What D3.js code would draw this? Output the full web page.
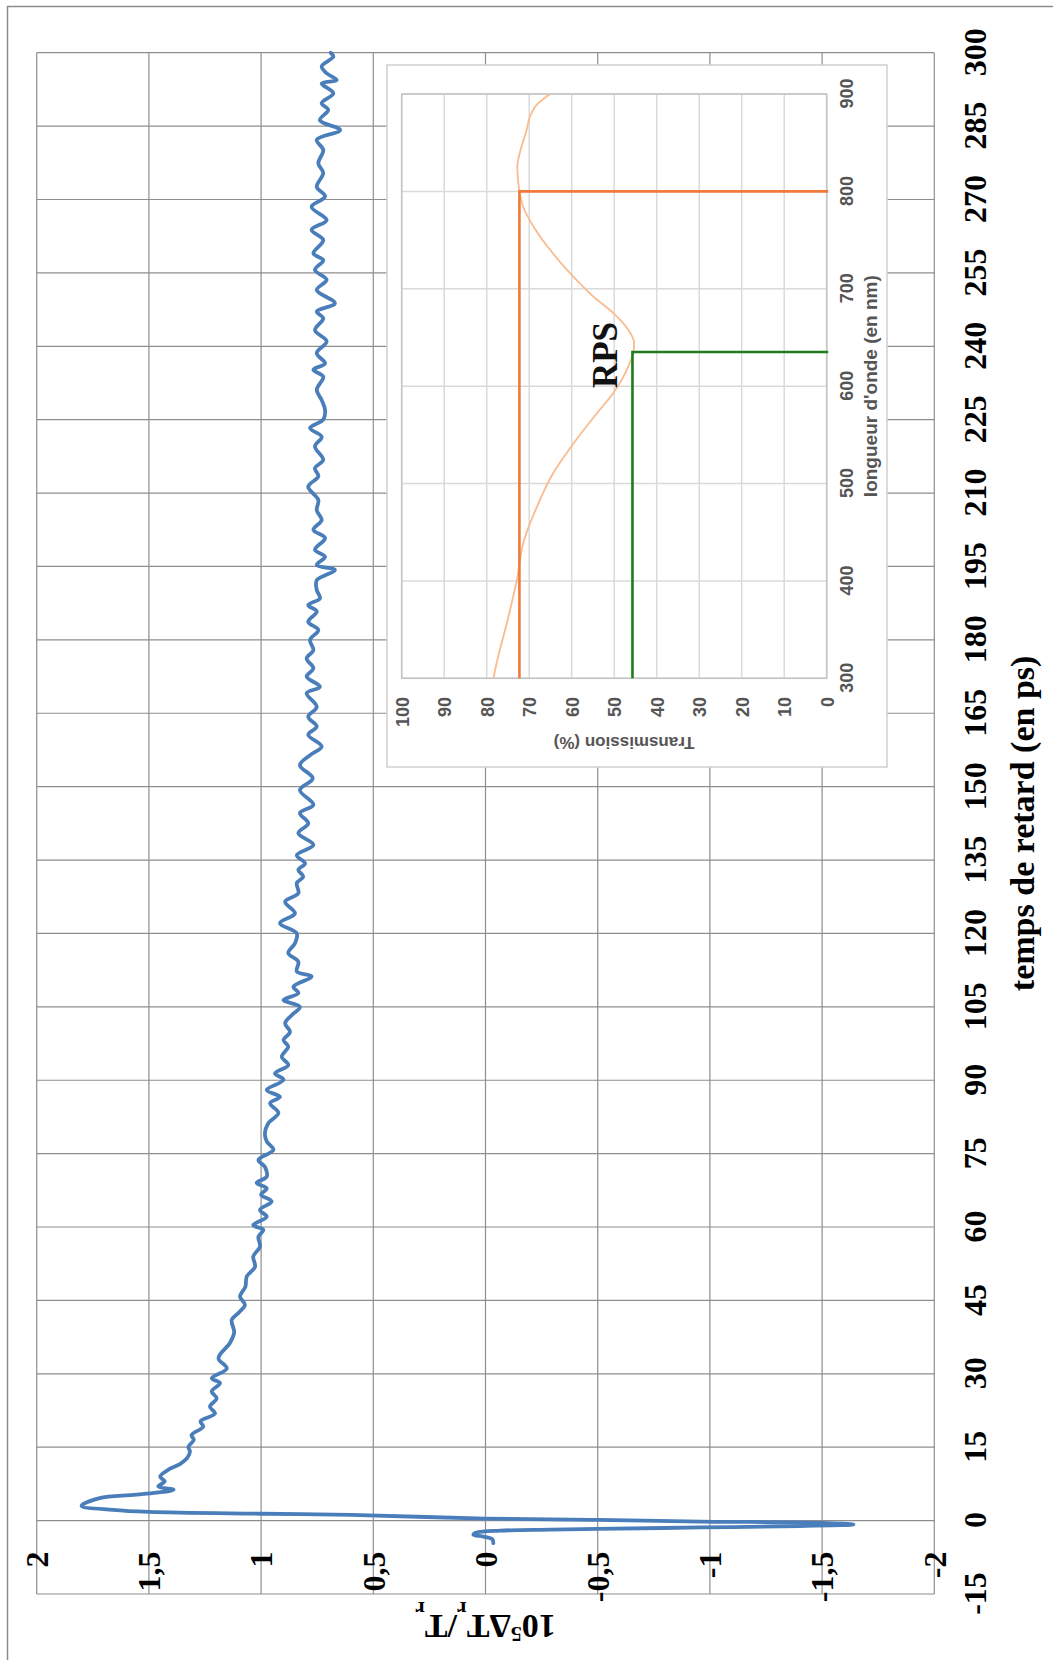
<!DOCTYPE html>
<html>
<head>
<meta charset="utf-8">
<script src="https://cdn.jsdelivr.net/npm/d3@7"></script>
<style>
  html, body { margin: 0; padding: 0; background: #fff; }
  svg { display: block; }
</style>
</head>
<body>
<div id="chart"></div>
<script>
// ---------------- DATA ----------------
// main chart: delay time (ps) and signal 10^5 dTr/Tr
const delayTimes = [-4.62,-3.8,-3.27,-2.92,-2.45,-2.04,-1.84,-1.70,-1.40,-1.10,-0.80,-0.45,-0.20,0.14,0.41,1.17,1.40,1.78,2.20,3.00,
  4.60,5.25,5.70,6.30,6.95,8.0,9.0,10.5,11.6,12.75,14.1,15.1,16.5,17.5,19.2,20.3,21.9,23.3,25.0,26.4,28.1,29.1,31.1,33.2,36.3,38.5,41.0,42.5,44.1,45.8,
  47.8,49.9,51.9,54.0,56.0,58.0,59.4,60.4,62.1,63.5,65.2,66.6,67.9,69.0,70.3,72.3,73.7,75.8,77.5,79.2,81.2,83.3,85.3,86.6,88.0,90.1,91.4,93.1,94.8,96.9,
  98.2,99.9,101.6,103.3,105.0,106.4,107.8,109.1,111.2,112.2,114.2,116.0,118.0,120.0,122.1,124.1,126.5,128.2,130.3,131.6,133.0,134.3,136.0,138.1,140.5,142.5,144.6,146.3,149.3,151.7,
  154.4,156.5,158.2,160.6,162.3,164.3,166.3,169.1,170.4,172.5,174.2,176.2,177.9,180.0,182.0,183.7,185.8,187.1,188.5,190.2,192.2,194.3,195.3,197.0,198.4,200.8,202.5,204.5,206.5,208.6,
  211.3,213.4,215.1,216.8,219.5,221.5,223.3,225.0,227.0,229.0,231.1,233.8,235.2,236.5,238.6,241.0,243.3,245.7,247.1,248.8,251.5,253.6,255.6,257.6,259.0,261.7,263.8,265.8,268.5,270.6,
  272.6,275.4,277.4,280.1,282.2,284.2,286.2,288.3,289.7,291.7,293.7,294.4,295.8,297.2,299.2,300.0];
const signalValues = [-0.035,-0.03,0.01,0.054,0.04,-0.065,-0.29,-0.50,-0.96,-1.40,-1.64,-1.50,-0.96,-0.50,0.0,0.60,1.00,1.50,1.66,1.80,
  1.72,1.57,1.465,1.39,1.458,1.43,1.45,1.41,1.36,1.33,1.317,1.324,1.30,1.31,1.258,1.27,1.205,1.228,1.198,1.22,1.183,1.22,1.153,1.19,1.139,1.12,1.131,1.10,1.072,1.094,
  1.07,1.064,1.027,1.035,1.005,1.012,0.99,1.035,0.975,1.005,0.953,1.0,0.975,1.02,0.975,0.983,1.012,0.945,0.975,0.983,0.968,0.923,0.96,0.916,0.975,0.90,0.938,0.879,0.908,0.879,
  0.90,0.871,0.893,0.864,0.827,0.90,0.834,0.856,0.775,0.841,0.834,0.879,0.849,0.841,0.916,0.849,0.893,0.834,0.841,0.812,0.834,0.804,0.841,0.767,0.834,0.79,0.827,0.767,0.827,0.77,
  0.827,0.78,0.73,0.79,0.752,0.79,0.752,0.797,0.738,0.797,0.767,0.797,0.767,0.782,0.745,0.79,0.752,0.79,0.738,0.752,0.752,0.671,0.752,0.715,0.76,0.715,0.767,0.73,0.752,0.745,
  0.79,0.745,0.76,0.723,0.76,0.73,0.782,0.723,0.715,0.73,0.752,0.723,0.767,0.715,0.752,0.708,0.76,0.723,0.752,0.671,0.752,0.708,0.76,0.723,0.767,0.723,0.775,0.708,0.775,0.715,
  0.752,0.723,0.745,0.723,0.752,0.648,0.738,0.701,0.73,0.678,0.73,0.663,0.708,0.73,0.678,0.69];

const xTickValues = [-15,0,15,30,45,60,75,90,105,120,135,150,165,180,195,210,225,240,255,270,285,300];
const xTickLabels = ["-15","0","15","30","45","60","75","90","105","120","135","150","165","180","195","210","225","240","255","270","285","300"];
const yTickValues = [-2,-1.5,-1,-0.5,0,0.5,1,1.5,2];
const yTickLabels = ["-2","-1,5","-1","-0,5","0","0,5","1","1,5","2"];

// inset: transmission spectrum
const wavelengths = [300,309,363,401,439,476,511,541,572,593,620,635,644,658,675,692,716,740,764,784,800,825,846,863,877,889,900];
const transmission = [78.4,78.0,74.9,72.9,71.4,68.2,64.3,59.6,54.1,50.2,46.7,45.5,45.3,46.7,50.2,54.9,60.4,65.1,69.0,71.4,72.3,72.8,71.8,70.6,69.8,68.2,65.1];
const insetXTicks = [300,400,500,600,700,800,900];
const insetYTicks = [0,10,20,30,40,50,60,70,80,90,100];
// marker lines: [wavelength, transmission]
const orangeMarker = [800, 72.3];
const greenMarker = [635, 45.7];

// ---------------- LAYOUT ----------------
const IMG_W = 1053, IMG_H = 1660;
const svg = d3.select("#chart").append("svg")
  .attr("width", IMG_W).attr("height", IMG_H);

// outer frame (only top and left edges are visible in the picture)
svg.append("path").attr("d", `M7.5,${IMG_H} V6.5 H${IMG_W}`)
  .attr("fill", "none").attr("stroke", "#8c8c8c").attr("stroke-width", 1.5);

// whole chart drawn in landscape then rotated -90deg
const g = svg.append("g").attr("transform", `translate(0,${IMG_H}) rotate(-90)`);

const serif = "'Liberation Serif', 'Times New Roman', serif";
const sans = "'Liberation Sans', Arial, sans-serif";

const x = d3.scaleLinear().domain([-15, 300]).range([66, 1607.3]);
const y = d3.scaleLinear().domain([-2, 2]).range([934.3, 36.7]);

const gridColor = "#8e8e8e";
// gridlines
g.append("g").selectAll("line").data(xTickValues).join("line")
  .attr("x1", d => x(d)).attr("x2", d => x(d))
  .attr("y1", y(-2)).attr("y2", y(2))
  .attr("stroke", gridColor).attr("stroke-width", 1.2);
g.append("g").selectAll("line").data(yTickValues).join("line")
  .attr("x1", x(-15)).attr("x2", x(300))
  .attr("y1", d => y(d)).attr("y2", d => y(d))
  .attr("stroke", gridColor).attr("stroke-width", 1.2);

// x axis labels
const xAxis = d3.axisBottom(x).tickValues(xTickValues)
  .tickFormat((d, i) => xTickLabels[i]).tickSize(0).tickPadding(0);
const gx = g.append("g").attr("transform", `translate(0,975)`).call(xAxis);
gx.select(".domain").remove();
gx.selectAll("text").attr("y", 0).attr("dy", "0.34em")
  .attr("font-family", serif).attr("font-weight", "bold").attr("font-size", 32).attr("fill", "#000");

// y axis labels (axis crosses at t = 0)
const yAxis = d3.axisLeft(y).tickValues(yTickValues)
  .tickFormat((d, i) => yTickLabels[i]).tickSize(0).tickPadding(31);
const gy = g.append("g").attr("transform", `translate(${x(0)},0)`).call(yAxis);
gy.select(".domain").remove();
gy.selectAll("text").attr("dy", "0.34em")
  .attr("font-family", serif).attr("font-weight", "bold").attr("font-size", 32).attr("fill", "#000");

// axis titles
g.append("text").attr("x", (x(-15) + x(300)) / 2).attr("y", 1024).attr("dy", "0.3em")
  .attr("text-anchor", "middle").attr("font-family", serif).attr("font-weight", "bold")
  .attr("font-size", 34).attr("fill", "#000").text("temps de retard (en ps)");

const yt = g.append("text").attr("transform", `translate(35,${(y(-2) + y(2)) / 2}) rotate(-90)`)
  .attr("dy", "0.3em").attr("text-anchor", "middle").attr("font-family", serif)
  .attr("font-weight", "bold").attr("font-size", 34).attr("fill", "#000");
yt.append("tspan").text("10");
yt.append("tspan").attr("baseline-shift", "super").attr("font-size", 22).text("5");
yt.append("tspan").text("ΔT");
yt.append("tspan").attr("baseline-shift", "sub").attr("font-size", 22).text("r");
yt.append("tspan").text("/T");
yt.append("tspan").attr("baseline-shift", "sub").attr("font-size", 22).text("r");

// main line
const mainData = delayTimes.map((t, i) => [t, signalValues[i]]);
g.append("path").datum(mainData)
  .attr("d", d3.line().x(d => x(d[0])).y(d => y(d[1])).curve(d3.curveCatmullRom.alpha(0.5)))
  .attr("fill", "none").attr("stroke", "#4a7ebb").attr("stroke-width", 3.8)
  .attr("stroke-linejoin", "round").attr("stroke-linecap", "round");

// ---------------- INSET ----------------
const inset = g.append("g");
inset.append("rect").attr("x", 893).attr("y", 387).attr("width", 702).attr("height", 500)
  .attr("fill", "#fff").attr("stroke", "#d0d0d0").attr("stroke-width", 1.5);

const xi = d3.scaleLinear().domain([300, 900]).range([981.7, 1566]);
const yi = d3.scaleLinear().domain([0, 100]).range([826.7, 401.7]);

inset.append("g").selectAll("line").data(insetXTicks).join("line")
  .attr("x1", d => xi(d)).attr("x2", d => xi(d)).attr("y1", yi(0)).attr("y2", yi(100))
  .attr("stroke", "#dadada").attr("stroke-width", 1.5);
inset.append("g").selectAll("line").data(insetYTicks).join("line")
  .attr("x1", xi(300)).attr("x2", xi(900)).attr("y1", d => yi(d)).attr("y2", d => yi(d))
  .attr("stroke", "#dadada").attr("stroke-width", 1.5);
inset.append("rect").attr("x", xi(300)).attr("y", yi(100))
  .attr("width", xi(900) - xi(300)).attr("height", yi(0) - yi(100))
  .attr("fill", "none").attr("stroke", "#c4c4c4").attr("stroke-width", 1.5);

const insetText = "#555";
const ixAxis = d3.axisBottom(xi).tickValues(insetXTicks).tickSize(0).tickPadding(0).tickFormat(d3.format("d"));
const gix = inset.append("g").attr("transform", `translate(0,847)`).call(ixAxis);
gix.select(".domain").remove();
gix.selectAll("text").attr("y", 0).attr("dy", "0.36em")
  .attr("font-family", sans).attr("font-weight", "bold").attr("font-size", 18).attr("fill", insetText);

const iyAxis = d3.axisLeft(yi).tickValues(insetYTicks).tickSize(0).tickPadding(18.7).tickFormat(d3.format("d"));
const giy = inset.append("g").attr("transform", `translate(${xi(300)},0)`).call(iyAxis);
giy.select(".domain").remove();
giy.selectAll("text").attr("dy", "0.36em")
  .attr("font-family", sans).attr("font-weight", "bold").attr("font-size", 18).attr("fill", insetText);

inset.append("text").attr("x", (xi(300) + xi(900)) / 2).attr("y", 870).attr("dy", "0.35em")
  .attr("text-anchor", "middle").attr("font-family", sans).attr("font-weight", "bold")
  .attr("font-size", 19).attr("fill", insetText)
  .text("longueur d'onde (en nm)");
inset.append("text").attr("transform", `translate(917,624) rotate(-90)`).attr("dy", "0.35em")
  .attr("text-anchor", "middle").attr("font-family", sans).attr("font-weight", "bold")
  .attr("font-size", 17).attr("fill", insetText)
  .text("Transmission (%)");

// spectrum curve
const specData = wavelengths.map((w, i) => [w, transmission[i]]);
inset.append("path").datum(specData)
  .attr("d", d3.line().x(d => xi(d[0])).y(d => yi(d[1])).curve(d3.curveMonotoneX))
  .attr("fill", "none").attr("stroke", "#f9bb8f").attr("stroke-width", 1.8);

// marker lines
function marker(m, color) {
  inset.append("path")
    .attr("d", d3.line()([[xi(300), yi(m[1])], [xi(m[0]), yi(m[1])], [xi(m[0]), yi(0) + 1.5]]))
    .attr("fill", "none").attr("stroke", color).attr("stroke-width", 2.6);
}
marker(orangeMarker, "#f07a3a");
marker(greenMarker, "#1b7d1b");

inset.append("text").attr("x", xi(632)).attr("y", 616.7).attr("text-anchor", "middle")
  .attr("font-family", serif).attr("font-weight", "bold").attr("font-size", 35).attr("fill", "#111")
  .text("RPS");
</script>
</body>
</html>
